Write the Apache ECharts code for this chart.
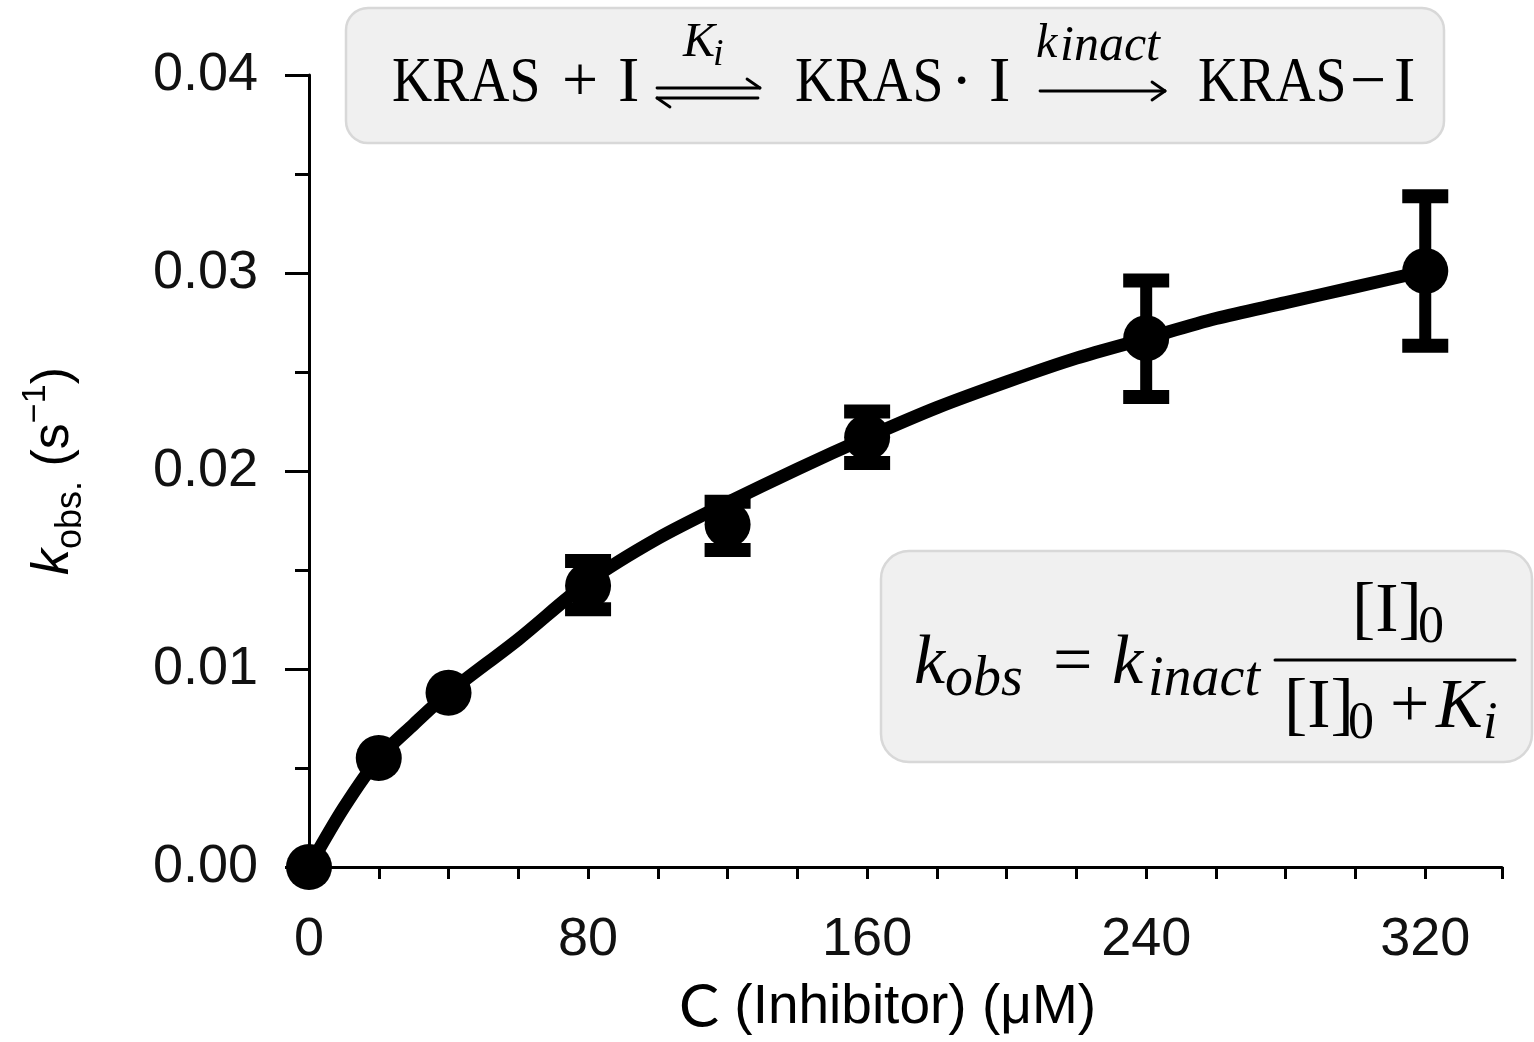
<!DOCTYPE html>
<html style="height: 100%">
<head>
    <meta charset="utf-8">
</head>
<body style="height: 100%; margin: 0; background: #fff">
<div id="container" style="width: 1534px; height: 1042px"></div>
<script type="text/javascript" src="https://cdn.jsdelivr.net/npm/echarts@6/dist/echarts.min.js"></script>
<script type="text/javascript">
// measured points (inhibitor concentration, uM) and k_obs (1/s)
var conc = [0, 20, 40, 80, 120, 160, 240, 320];
var kobs = [0, 0.0055, 0.0088, 0.0142, 0.0173, 0.0217, 0.0267, 0.0301];
var errHigh = [null, null, null, 0.01545, 0.01845, 0.0230, 0.02962, 0.03388];
var errLow = [null, null, null, 0.01302, 0.01601, 0.0204, 0.02374, 0.02632];
// fitted curve
var fitX = [0, 10, 20, 30, 40, 60, 80, 100, 120, 140, 160, 180, 200, 220, 240, 260, 280, 300, 320];
var fitY = [0, 0.0030, 0.0055, 0.0072, 0.0088, 0.0115, 0.0144, 0.0166, 0.0184, 0.0201, 0.0217,
            0.0232, 0.0245, 0.0257, 0.0267, 0.0277, 0.0285, 0.0293, 0.0301];
var xTicks = [0, 20, 40, 60, 80, 100, 120, 140, 160, 180, 200, 220, 240, 260, 280, 300, 320, 342];
var xLabels = [0, 80, 160, 240, 320];

var dom = document.getElementById("container");
var myChart = echarts.init(dom, null, {renderer: 'canvas'});

var points = [], fit = [], bars = [];
for (var i = 0; i < conc.length; i++) {
    points.push([conc[i], kobs[i]]);
    if (errHigh[i] != null) bars.push([conc[i], errHigh[i], errLow[i]]);
}
for (var j = 0; j < fitX.length; j++) fit.push([fitX[j], fitY[j]]);

var serif = 'Liberation Serif';
// text placed by its baseline
function txt(x, base, s, size, italic, sx) {
    return {
        type: 'text', x: x, y: base - 0.34 * size, z: 20,
        scaleX: sx || 1,
        style: {
            text: s, fill: '#000', fontFamily: serif, fontSize: size,
            fontStyle: italic ? 'italic' : 'normal',
            align: 'left', verticalAlign: 'middle'
        }
    };
}
function seg(x1, y1, x2, y2, w) {
    return {type: 'line', z: 20, shape: {x1: x1, y1: y1, x2: x2, y2: y2},
            style: {stroke: '#000', lineWidth: w || 2.8, lineCap: 'round'}};
}

var graphics = [
    {type: 'rect', z: 10, shape: {x: 346, y: 8, width: 1098, height: 135, r: 22},
     style: {fill: '#f0f0f0', stroke: '#d8d8d8', lineWidth: 2.5}},
    txt(392, 106, 'KRAS', 64, false, 0.87),
    txt(562, 106, '+', 64),
    txt(618, 106, 'I', 64),
    txt(683, 60, 'K', 48, true), txt(713, 68, 'i', 38, true),
    seg(657, 88, 760, 88), seg(747, 79, 760, 88),
    seg(657, 98, 758, 98), seg(670, 107, 657, 98),
    txt(795, 106, 'KRAS', 64, false, 0.87),
    txt(951, 106, '\u00b7', 64),
    txt(989, 106, 'I', 64),
    txt(1036, 61, 'k', 48, true), txt(1060, 64, 'inact', 50, true),
    seg(1040, 91, 1165, 91), seg(1152, 82, 1165, 91), seg(1152, 100, 1165, 91),
    txt(1198, 106, 'KRAS', 64, false, 0.87),
    txt(1350, 106, '\u2212', 64),
    txt(1394, 106, 'I', 64),

    {type: 'rect', z: 10, shape: {x: 881, y: 551, width: 651, height: 211, r: 28},
     style: {fill: '#f0f0f0', stroke: '#d8d8d8', lineWidth: 2.5}},
    txt(914, 688, 'k', 70, true), txt(945, 699, 'obs', 56, true),
    txt(1053, 688, '=', 70),
    txt(1112, 688, 'k', 70, true), txt(1148, 699, 'inact', 56, true),
    seg(1275, 660, 1515, 660, 3),
    txt(1352, 636, '[I]', 70), txt(1418, 646, '0', 52),
    txt(1284, 732, '[I]', 70), txt(1348, 742, '0', 52),
    txt(1390, 732, '+', 70),
    txt(1436, 732, 'K', 70, true), txt(1483, 742, 'i', 52, true)
];

var option = {
    animation: false,
    backgroundColor: '#fff',
    grid: {left: 309, right: 32, top: 75, bottom: 175, outerBoundsMode: 'none'},
    xAxis: {
        type: 'value',
        min: 0,
        max: 342,
        interval: 20,
        name: '{c|C}{n| (Inhibitor) (\u03bcM)}',
        nameLocation: 'middle',
        nameGap: 111,
        nameTextStyle: {
            padding: [0, 36, 0, 0],
            rich: {
                c: {fontFamily: 'Lato', fontSize: 60, color: '#000'},
                n: {fontFamily: 'Liberation Sans', fontSize: 55, color: '#000'}
            }
        },
        axisLine: {lineStyle: {color: '#000', width: 3}},
        axisTick: {show: true, length: 12, customValues: xTicks,
                   lineStyle: {color: '#000', width: 3}},
        axisLabel: {
            customValues: xLabels,
            margin: 46,
            fontFamily: 'Liberation Sans', fontSize: 54, color: '#111'
        },
        splitLine: {show: false}
    },
    yAxis: {
        type: 'value',
        min: 0,
        max: 0.04,
        interval: 0.01,
        name: '{k|k}{sub|obs.}{t| (s}{sup|\u22121}{t|)}',
        nameLocation: 'middle',
        nameRotate: 90,
        nameGap: 220,
        nameTextStyle: {
            rich: {
                k: {fontFamily: 'Liberation Sans', fontStyle: 'italic', fontSize: 52,
                    lineHeight: 70, verticalAlign: 'middle', color: '#000'},
                sub: {fontFamily: 'Liberation Sans', fontSize: 36, verticalAlign: 'bottom', color: '#000'},
                t: {fontFamily: 'Liberation Sans', fontSize: 52, verticalAlign: 'middle', color: '#000'},
                sup: {fontFamily: 'Liberation Sans', fontSize: 34, verticalAlign: 'top', color: '#000'}
            }
        },
        axisLine: {show: true, lineStyle: {color: '#000', width: 3}},
        axisTick: {show: true, length: 24, lineStyle: {color: '#000', width: 3}},
        minorTick: {show: true, splitNumber: 2, length: 14, lineStyle: {color: '#000', width: 3}},
        axisLabel: {
            margin: 51,
            fontFamily: 'Liberation Sans', fontSize: 54, color: '#111',
            formatter: function (v) { return v.toFixed(2); }
        },
        splitLine: {show: false},
        minorSplitLine: {show: false}
    },
    series: [
        {
            name: 'fit',
            type: 'line',
            data: fit,
            smooth: 0.3,
            symbol: 'none',
            clip: false,
            lineStyle: {color: '#000', width: 13},
            z: 2
        },
        {
            name: 'error',
            type: 'custom',
            data: bars,
            clip: false,
            encode: {x: 0, y: [1, 2]},
            renderItem: function (params, api) {
                var top = api.coord([api.value(0), api.value(1)]);
                var bot = api.coord([api.value(0), api.value(2)]);
                var half = 23;
                var st = {stroke: '#000', lineWidth: 14};
                return {
                    type: 'group',
                    children: [
                        {type: 'line', shape: {x1: top[0], y1: top[1], x2: bot[0], y2: bot[1]},
                         style: {stroke: '#000', lineWidth: 12}},
                        {type: 'line', shape: {x1: top[0] - half, y1: top[1], x2: top[0] + half, y2: top[1]}, style: st},
                        {type: 'line', shape: {x1: bot[0] - half, y1: bot[1], x2: bot[0] + half, y2: bot[1]}, style: st}
                    ]
                };
            },
            z: 3
        },
        {
            name: 'kobs',
            type: 'scatter',
            data: points,
            symbol: 'circle',
            symbolSize: 46,
            clip: false,
            itemStyle: {color: '#000', opacity: 1},
            z: 4
        }
    ],
    graphic: graphics
};

myChart.setOption(option);
</script>
</body>
</html>
